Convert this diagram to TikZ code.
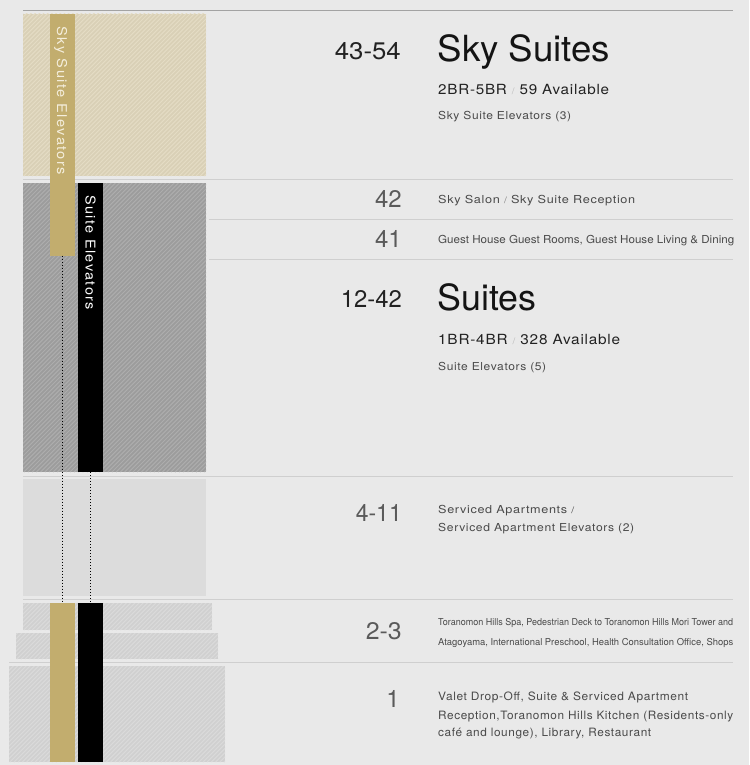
\documentclass[tikz,border=0pt]{standalone}
\usepackage{fontspec}
\usepackage{graphicx}
\setmainfont{TeX Gyre Heros}
\newfontfamily\lsA[LetterSpace=5]{TeX Gyre Heros}
\newfontfamily\lsB[LetterSpace=10]{TeX Gyre Heros}
\newcommand{\fitw}[2]{\resizebox{#1}{\height}{#2}}
% #1 x1, #2 y1 (top), #3 x2, #4 y2 (bottom), #5 base colour, #6 stripe colour
\newcommand{\hatchbox}[6]{%
  \fill[#5] (#1,#2) rectangle (#3,#4);
  \begin{scope}
    \clip (#1,#2) rectangle (#3,#4);
    \foreach \k in {-310,-305.8,...,240}
      \draw[#6,line width=1.05pt] (#1+\k,#4) -- ++(320,-320);
  \end{scope}}
\definecolor{bg}{HTML}{E9E9E9}
\definecolor{beige}{HTML}{D9D0B6}
\definecolor{beigeS}{HTML}{E4DCC4}
\definecolor{midgray}{HTML}{9C9C9C}
\definecolor{midgrayS}{HTML}{ADADAD}
\definecolor{ltgray}{HTML}{D0D0D0}
\definecolor{ltgrayS}{HTML}{DADADA}
\definecolor{svcgray}{HTML}{DCDCDC}
\definecolor{gold}{HTML}{C2AD6E}
\definecolor{cream}{HTML}{F4EEDC}
\definecolor{rulec}{HTML}{CFCFCF}
\definecolor{ruletopc}{HTML}{A3A3A3}
\definecolor{numdark}{HTML}{222222}
\definecolor{numgray}{HTML}{5A5A5A}
\definecolor{txt}{HTML}{4A4A4A}
\definecolor{slashc}{HTML}{BBBBBB}
\begin{document}
\begin{tikzpicture}[x=1pt,y=-1pt,
  rulel/.style={draw=rulec,line width=1pt},
  ruletop/.style={draw=ruletopc,line width=1pt},
  bar/.style={inner sep=0pt,outer sep=0pt,minimum width=25pt,draw=none},
  dotline/.style={black,line width=1pt,dash pattern=on 1pt off 2pt},
  vlabel/.style={anchor=base west,inner sep=0pt,rotate=-90},
  num/.style={anchor=base east,inner sep=0pt,font=\fontsize{24}{24}\selectfont},
  desc/.style={anchor=base west,inner sep=0pt,text=txt}]
\useasboundingbox (0,0) rectangle (749,765);
\fill[bg] (0,0) rectangle (749,765);

% rules
\draw[ruletop] (23,10.5) -- (733,10.5);
\draw[rulel] (23,179.5) -- (733,179.5);
\draw[rulel] (209,219) -- (733,219);
\draw[rulel] (209,259) -- (733,259);
\draw[rulel] (23,476) -- (733,476);
\draw[rulel] (23,599.5) -- (733,599.5);
\draw[rulel] (9,662.5) -- (733,662.5);

% building blocks
\hatchbox{23}{14}{206}{176}{beige}{beigeS}
\hatchbox{23}{183}{206}{472}{midgray}{midgrayS}
\fill[svcgray] (23,479) rectangle (206,596);
\hatchbox{23}{603}{212}{630}{ltgray}{ltgrayS}
\hatchbox{16}{633}{218}{659}{ltgray}{ltgrayS}
\hatchbox{9}{666}{225}{762}{ltgray}{ltgrayS}

% elevator shafts
\node[bar,fill=gold,minimum height=241.7pt] (sseU) at (62.5,134.85) {};
\node[bar,fill=black,minimum height=289pt] (seU) at (90.5,327.5) {};
\node[bar,fill=gold,minimum height=159pt] (sseL) at (62.5,682.5) {};
\node[bar,fill=black,minimum height=159pt] (seL) at (90.5,682.5) {};
\draw[dotline] (sseU.south) -- (sseL.north);
\draw[dotline] (seU.south) -- (seL.north);

\node[vlabel,text=cream] (sseT) at (57,26) {\fitw{149pt}{\fontsize{13.5}{14}\lsB Sky Suite Elevators}};
\node[vlabel,text=white] (seT) at (85.5,195) {\fitw{115pt}{\fontsize{13.5}{14}\lsB Suite Elevators}};

% 43-54
\node[num,text=numdark] (n5) at (401,60) {\fitw{66pt}{43-54}};
\node[desc,text=black!92,font=\fontsize{36}{36}\selectfont] (t5) at (437.5,62) {\fitw{172.5pt}{Sky Suites}};
\node[desc,text=numdark] (s5) at (438,95) {\fitw{171pt}{\fontsize{14}{14}\lsA 2BR-5BR \textcolor{slashc}{\fontsize{9}{9}\selectfont/} 59 Available}};
\node[desc] (e5) at (438,120) {\fitw{133pt}{\fontsize{11}{11}\lsA Sky Suite Elevators (3)}};

% 42
\node[num,text=numgray] (n42) at (402,207.5) {42};
\node[desc] (d42) at (438,203) {\fitw{197pt}{\fontsize{11}{11}\lsA Sky Salon \textcolor{slashc!70!black}{\fontsize{9}{9}\selectfont/} Sky Suite Reception}};

% 41
\node[num,text=numgray] (n41) at (402,247.5) {41};
\node[desc] (d41) at (438,243) {\fitw{296pt}{\fontsize{11}{11}\selectfont Guest House Guest Rooms, Guest House Living \& Dining}};

% 12-42
\node[num,text=numdark] (n4) at (402,307.5) {\fitw{61pt}{12-42}};
\node[desc,text=black!92,font=\fontsize{36}{36}\selectfont] (t4) at (437.5,310) {\fitw{99pt}{Suites}};
\node[desc,text=numdark] (s4) at (438,344) {\fitw{182pt}{\fontsize{14}{14}\lsA 1BR-4BR \textcolor{slashc}{\fontsize{9}{9}\selectfont/} 328 Available}};
\node[desc] (e4) at (438,370) {\fitw{108pt}{\fontsize{11}{11}\lsA Suite Elevators (5)}};

% 4-11
\node[num,text=numgray] (n3) at (402,521.5) {\fitw{46pt}{4-11}};
\node[desc] (d3a) at (438,513) {\fitw{136pt}{\fontsize{11}{11}\lsA Serviced Apartments \fontsize{9}{9}\selectfont/}};
\node[desc] (d3b) at (438,531) {\fitw{196pt}{\fontsize{11}{11}\lsA Serviced Apartment Elevators (2)}};

% 2-3
\node[num,text=numgray] (n2) at (402,639) {\fitw{36pt}{2-3}};
\node[desc] (d2a) at (438,625) {\fitw{295pt}{\fontsize{9.5}{10}\selectfont Toranomon Hills Spa, Pedestrian Deck to Toranomon Hills Mori Tower and}};
\node[desc] (d2b) at (438,645.5) {\fitw{295pt}{\fontsize{9.5}{10}\selectfont Atagoyama, International Preschool, Health Consultation Office, Shops}};

% 1
\node[num,text=numgray] (n1) at (400,707.5) {1};
\node[desc] (d1a) at (438,700) {\fitw{250pt}{\fontsize{11.5}{12}\lsA Valet Drop-Off, Suite \& Serviced Apartment}};
\node[desc] (d1b) at (438,719) {\fitw{295pt}{\fontsize{11.5}{12}\lsA Reception,Toranomon Hills Kitchen (Residents-only}};
\node[desc] (d1c) at (438,736.5) {\fitw{213pt}{\fontsize{11.5}{12}\lsA café and lounge), Library, Restaurant}};
\end{tikzpicture}
\end{document}
